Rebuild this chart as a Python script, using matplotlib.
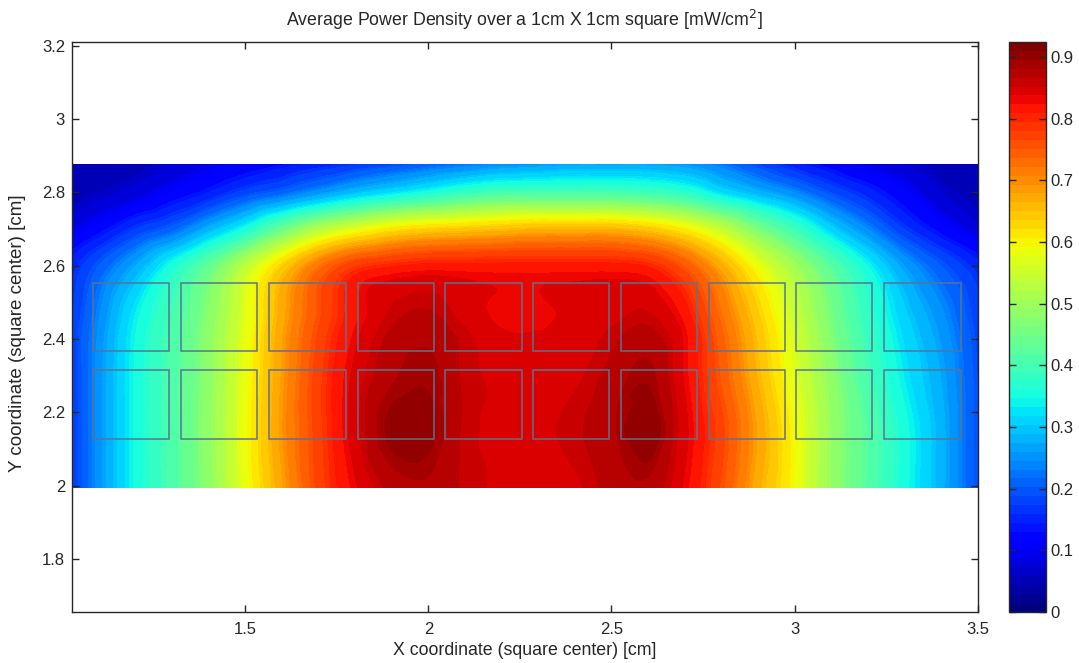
import numpy as np
import matplotlib
matplotlib.use('Agg')
from matplotlib import pyplot as plt
from matplotlib.patches import Rectangle
from matplotlib.colors import Normalize
from matplotlib import cm
import matplotlib.tri as mtri

plt.rcParams['font.family'] = ['Liberation Sans', 'DejaVu Sans']

# grid of the map (cm)
x_grid = [1.027, 1.1, 1.2, 1.3, 1.4, 1.5, 1.6, 1.7, 1.8, 1.9, 2.0, 2.1, 2.2,
          2.3, 2.4, 2.5, 2.6, 2.7, 2.8, 2.9, 3.0, 3.1, 3.2, 3.3, 3.4, 3.5]
y_grid = [1.995, 2.15, 2.3, 2.45, 2.6, 2.7, 2.8, 2.875]

# average power density [mW/cm^2], one row per y_grid value
row_1995 = [.17, .25, .345, .41, .48, .58, .68, .77, .83, .87, .88, .86, .85,
            .84, .85, .87, .88, .83, .76, .67, .59, .49, .42, .35, .28, .19]
row_2150 = [.17, .25, .345, .41, .485, .585, .69, .775, .845, .90, .90, .86, .85,
            .85, .86, .88, .91, .84, .77, .68, .59, .49, .42, .35, .28, .19]
row_2300 = [.17, .25, .345, .41, .48, .58, .685, .775, .84, .88, .89, .86, .85,
            .85, .85, .87, .89, .83, .75, .66, .57, .48, .40, .33, .27, .19]
row_2450 = [.17, .24, .335, .40, .475, .57, .675, .76, .82, .86, .87, .85, .83,
            .83, .84, .85, .86, .82, .73, .64, .55, .46, .38, .31, .25, .18]
row_2600 = [.15, .20, .27, .35, .43, .53, .63, .72, .78, .80, .81, .81, .81,
            .81, .81, .81, .80, .75, .67, .58, .50, .42, .34, .26, .20, .15]
row_2700 = [.09, .12, .17, .21, .28, .35, .44, .52, .57, .61, .63, .64, .65,
            .66, .66, .66, .64, .60, .54, .46, .39, .31, .24, .17, .12, .08]
row_2800 = [.05, .06, .08, .11, .14, .18, .21, .25, .29, .32, .35, .38, .40,
            .40, .40, .40, .39, .37, .32, .28, .24, .19, .15, .11, .07, .05]
row_2875 = [.04, .04, .05, .07, .09, .11, .13, .15, .17, .19, .21, .23, .25,
            .26, .27, .27, .27, .26, .23, .19, .15, .12, .09, .07, .05, .04]

# sensor squares
sq_x = [1.188, 1.428, 1.670, 1.912, 2.150, 2.390, 2.630, 2.870, 3.108, 3.349]
sq_y = [2.459, 2.221]
sq_w = 0.209
sq_h = 0.186

vmax = 0.924

power = np.array([row_1995, row_2150, row_2300, row_2450,
                  row_2600, row_2700, row_2800, row_2875])
X, Y = np.meshgrid(x_grid, y_grid)

jet = plt.get_cmap('jet', 64)

fig = plt.figure(figsize=(10.79, 6.63), dpi=100)
ax = fig.add_axes([0.0667, 0.0769, 0.8394, 0.8597])

# smooth filled contours (matplotlib's refiner does the smoothing)
tri = mtri.Triangulation(X.ravel(), Y.ravel())
interp = mtri.CubicTriInterpolator(tri, power.ravel(), kind='geom')
tri_f, z_f = mtri.UniformTriRefiner(tri).refine_field(
    power.ravel(), triinterpolator=interp, subdiv=4)
ax.tricontourf(tri_f, z_f, levels=np.linspace(0, vmax, 93), cmap=jet,
               vmin=0, vmax=vmax, extend='both')

for cy in sq_y:
    for cx in sq_x:
        ax.add_patch(Rectangle((cx - sq_w / 2, cy - sq_h / 2), sq_w, sq_h,
                               fill=False, edgecolor='#5c7391', lw=1.1))

ax.set_xlim(1.027, 3.5)
ax.set_ylim(1.655, 3.21)
ax.set_xticks([1.5, 2, 2.5, 3, 3.5])
ax.set_xticklabels(['1.5', '2', '2.5', '3', '3.5'])
ax.set_yticks([1.8, 2, 2.2, 2.4, 2.6, 2.8, 3, 3.2])
ax.set_yticklabels(['1.8', '2', '2.2', '2.4', '2.6', '2.8', '3', '3.2'])
ax.tick_params(direction='in', top=True, right=True, length=5, width=1,
               labelsize=12, colors='#262626')
ax.tick_params(axis='x', pad=7)
ax.tick_params(axis='y', pad=5)
for s in ax.spines.values():
    s.set_color('#262626')
    s.set_linewidth(1)

ax.set_title('Average Power Density over a 1cm X 1cm square [mW/cm$^2$]',
             fontsize=12.8, y=1.0386, pad=0, verticalalignment='center',
             color='#262626')
ax.set_xlabel('X coordinate (square center) [cm]', fontsize=12.8,
              color='#262626', verticalalignment='center')
ax.set_ylabel('Y coordinate (square center) [cm]', fontsize=13.5,
              color='#262626', verticalalignment='center')
ax.xaxis.set_label_coords(0.5, -0.068)
ax.yaxis.set_label_coords(-0.0596, 0.49)

cax = fig.add_axes([0.935, 0.0769, 0.0343, 0.8597])
sm = cm.ScalarMappable(norm=Normalize(0, vmax), cmap=jet)
cb = fig.colorbar(sm, cax=cax, ticks=[0, .1, .2, .3, .4, .5, .6, .7, .8, .9])
cb.ax.set_yticklabels(['0', '0.1', '0.2', '0.3', '0.4', '0.5', '0.6', '0.7',
                       '0.8', '0.9'])
cb.ax.tick_params(direction='in', left=True, right=True, length=5, width=1,
                  labelsize=12, colors='#262626', pad=3)
cb.outline.set_edgecolor('#262626')
cb.outline.set_linewidth(1)

plt.savefig('out.png', dpi=100)
